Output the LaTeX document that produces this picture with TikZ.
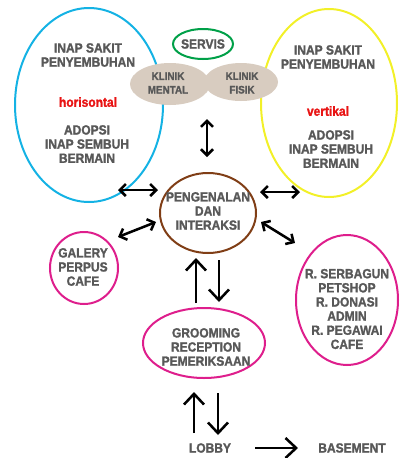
\documentclass[tikz,border=0pt]{standalone}
\usepackage{fontspec}
\setmainfont{Liberation Sans}
\newfontfamily\narrowsf{Liberation Sans}[FakeStretch=0.9,FakeBold=1.5]
\usetikzlibrary{shapes.geometric,arrows.meta}
\definecolor{txtgray}{RGB}{88,88,88}
\definecolor{ringblue}{RGB}{20,178,228}
\definecolor{ringgreen}{RGB}{0,160,72}
\definecolor{ringyellow}{RGB}{242,240,40}
\definecolor{ringbrown}{RGB}{128,62,22}
\definecolor{ringpink}{RGB}{222,30,140}
\definecolor{klinik}{RGB}{216,204,192}
\definecolor{redlbl}{RGB}{232,20,20}
\begin{document}
\begin{tikzpicture}[x=0.75pt,y=-0.75pt,
  ring/.style={ellipse,draw,line width=1.5pt,inner sep=0pt},
  blob/.style={ellipse,fill=klinik,inner sep=0pt},
  lbl/.style={align=center,text=txtgray,font=\narrowsf\bfseries\fontsize{10}{10.6}\selectfont},
  smalllbl/.style={lbl,font=\narrowsf\bfseries\fontsize{8.2}{10.2}\selectfont},
  dbl/.style={{Straight Barb[length=4.5pt,width=9pt]}-{Straight Barb[length=4.5pt,width=9pt]},line width=1.9pt},
  flow/.style={-{Straight Barb[length=8pt,width=15pt]},line width=1.9pt}]
\useasboundingbox (0,0) rectangle (400,458); % adjust bounding box
\node[ring,draw=ringblue,minimum width=111pt,minimum height=145.5pt] (rawat) at (89,105) {};
\node[ring,draw=ringyellow,minimum width=102pt,minimum height=141pt] (vert) at (329,103) {};
\node[ring,draw=ringgreen,minimum width=45pt,minimum height=22.5pt] (servis) at (203,44) {};
\node[blob,minimum width=60pt,minimum height=31.5pt] (mental) at (170,84) {};
\node[blob,minimum width=55.5pt,minimum height=28.5pt] (fisik) at (241,82) {};
\node[ring,draw=ringbrown,minimum width=72pt,minimum height=60pt] (kenal) at (208,213) {};
\node[ring,draw=ringpink,minimum width=51pt,minimum height=54pt] (galery) at (84,268) {};
\node[ring,draw=ringpink,minimum width=76.5pt,minimum height=97.5pt] (serba) at (347,300) {};
\node[ring,draw=ringpink,minimum width=91.5pt,minimum height=52.5pt] (groom) at (204,343) {};

\node[lbl] (rawat1) at (88,55) {INAP SAKIT\\PENYEMBUHAN};
\node[lbl,text=redlbl] (hor) at (88,102) {horisontal};
\node[lbl] (rawat2) at (87,144) {ADOPSI\\INAP SEMBUH\\BERMAIN};
\node[lbl] (vert1) at (328,57) {INAP SAKIT\\PENYEMBUHAN};
\node[lbl,text=redlbl] (ver) at (328,111) {vertikal};
\node[lbl] (vert2) at (331,149) {ADOPSI\\INAP SEMBUH\\BERMAIN};
\node[lbl] (servistxt) at (203,44) {SERVIS};
\node[smalllbl] (mentaltxt) at (168,83) {KLINIK\\MENTAL};
\node[smalllbl] (fisiktxt) at (242,83) {KLINIK\\FISIK};
\node[lbl] (kenaltxt) at (208,211) {PENGENALAN\\DAN\\INTERAKSI};
\node[lbl] (galerytxt) at (83,267) {GALERY\\PERPUS\\CAFE};
\node[lbl] (serbatxt) at (347,309) {R. SERBAGUN\\PETSHOP\\R. DONASI\\ADMIN\\R. PEGAWAI\\CAFE};
\node[lbl] (groomtxt) at (206,347) {GROOMING\\RECEPTION\\PEMERIKSAAN};
\node[lbl] (lobby) at (210,448) {LOBBY};
\node[lbl] (base) at (352,448) {BASEMENT};

% two-way links
\coordinate (k1) at (207,119); \coordinate (k2) at (207,157);
\coordinate (h1) at (118,190); \coordinate (h2) at (158,190);
\coordinate (g1) at (118,237); \coordinate (g2) at (156,222);
\coordinate (v1) at (260,192); \coordinate (v2) at (300,192);
\coordinate (s1) at (261,222); \coordinate (s2) at (295,243);
\draw[dbl] (k1) -- (k2);
\draw[dbl] (h1) -- (h2);
\draw[dbl] (g1) -- (g2);
\draw[dbl] (v1) -- (v2);
\draw[dbl] (s1) -- (s2);

% flow
\coordinate (u1) at (196,303); \coordinate (u2) at (196,258);
\coordinate (d1) at (219,260); \coordinate (d2) at (219,302);
\coordinate (u3) at (194,433); \coordinate (u4) at (194,392);
\coordinate (d3) at (218,393); \coordinate (d4) at (218,435);
\coordinate (b1) at (255,448); \coordinate (b2) at (298,448);
\draw[flow] (u1) -- (u2);
\draw[flow] (d1) -- (d2);
\draw[flow] (u3) -- (u4);
\draw[flow] (d3) -- (d4);
\draw[flow] (b1) -- (b2);
\end{tikzpicture}
\end{document}
